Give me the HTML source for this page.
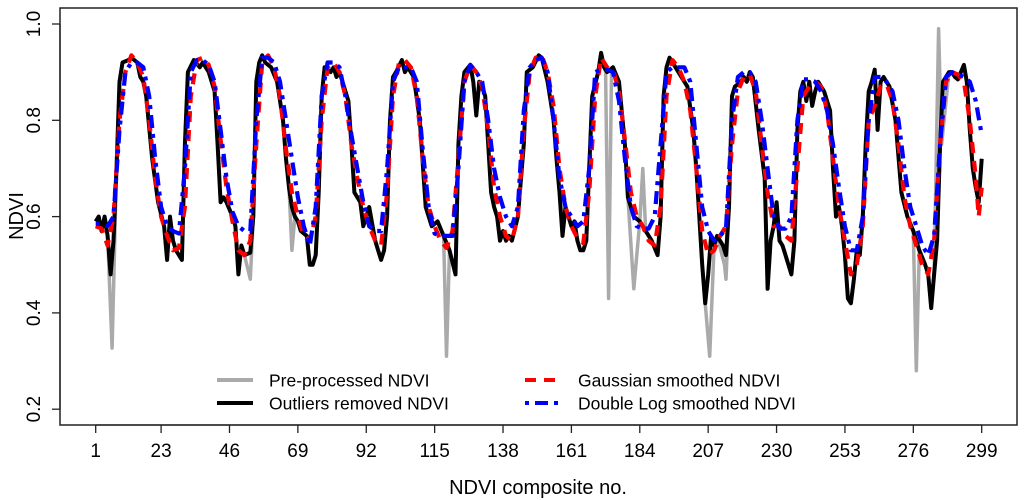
<!DOCTYPE html>
<html><head><meta charset="utf-8"><style>
html,body{margin:0;padding:0;background:#fff;}
svg{display:block;font-family:"Liberation Sans",Arial,sans-serif;}
</style></head><body>
<svg id="chart" width="1024" height="500" viewBox="0 0 1024 500">
<rect x="60" y="8" width="957" height="417" fill="none" stroke="#222" stroke-width="1.5"/>
<g id="xaxis"></g>
<g id="yaxis"></g>
<g id="series"></g>
<text x="538" y="494" font-size="20" text-anchor="middle" fill="#000">NDVI composite no.</text>
<text transform="translate(23,216) rotate(-90)" font-size="20" text-anchor="middle" fill="#000">NDVI</text>
<g>
<line x1="217" y1="380" x2="253" y2="380" stroke="#aaa" stroke-width="4"/>
<text x="269" y="386.5" font-size="17.5">Pre-processed NDVI</text>
<line x1="217" y1="403" x2="253" y2="403" stroke="#000" stroke-width="4"/>
<text x="269" y="409.5" font-size="17.5">Outliers removed NDVI</text>
<line x1="525" y1="380" x2="562" y2="380" stroke="#f00" stroke-width="4" stroke-dasharray="11,8"/>
<text x="578" y="386.5" font-size="17.5">Gaussian smoothed NDVI</text>
<line x1="525" y1="403" x2="562" y2="403" stroke="#00f" stroke-width="4" stroke-dasharray="4,6,13,6"/>
<text x="578" y="409.5" font-size="17.5">Double Log smoothed NDVI</text>
</g>
</svg>
<script>
const xTicks=[1,23,46,69,92,115,138,161,184,207,230,253,276,299];
const yTicks=[0.2,0.4,0.6,0.8,1.0];
const yTickLabels=["0.2","0.4","0.6","0.8","1.0"];
const blackX=[1,2,3,4,5,6,7,8,9,10,12,13,15,16,17,18,20,22,24,25,26,27,28,29,30,31,32,34,36,37,39,41,42,43,44,45,47,48,49,50,51,53,54,55,56,57,58,60,62,64,65,66,67,68,69,70,72,73,74,75,76,77,78,80,81,82,83,84,86,87,88,90,91,93,95,96,97,98,99,100,101,102,104,105,106,108,110,112,114,116,118,120,122,123,124,125,127,128,129,130,131,132,133,134,135,136,137,138,139,140,141,143,145,146,148,150,151,153,154,155,156,157,158,159,160,161,162,163,164,165,166,167,168,170,171,172,173,175,177,179,180,182,184,186,188,190,191,192,193,194,196,197,198,200,202,203,204,205,206,207,208,209,210,212,213,214,215,216,218,219,220,221,222,224,226,227,228,229,230,231,232,233,235,236,237,238,239,240,241,242,243,244,246,248,249,250,251,252,253,254,255,256,257,258,259,260,261,262,263,264,265,266,268,270,272,274,276,278,280,281,282,283,284,285,286,288,289,290,291,292,293,294,295,296,297,298,299];
const blackV=[.59,.60,.57,.60,.56,.48,.55,.70,.88,.92,.925,.93,.92,.89,.88,.85,.72,.63,.58,.51,.60,.55,.53,.52,.51,.75,.90,.925,.91,.92,.90,.86,.75,.63,.64,.63,.60,.58,.48,.54,.52,.525,.60,.88,.92,.935,.92,.91,.88,.80,.72,.66,.62,.60,.59,.57,.56,.50,.50,.52,.65,.85,.91,.90,.91,.89,.90,.88,.84,.75,.65,.63,.58,.62,.55,.53,.51,.53,.60,.80,.89,.90,.925,.90,.91,.89,.80,.62,.58,.59,.56,.53,.48,.75,.85,.90,.915,.88,.81,.88,.87,.85,.75,.65,.62,.60,.55,.57,.55,.56,.55,.60,.75,.90,.91,.935,.93,.88,.84,.80,.72,.65,.56,.62,.60,.58,.59,.55,.53,.53,.55,.70,.85,.90,.94,.91,.90,.91,.88,.75,.64,.60,.59,.57,.55,.52,.60,.85,.91,.93,.91,.90,.89,.87,.78,.70,.60,.50,.42,.48,.56,.54,.56,.54,.52,.62,.85,.87,.88,.89,.88,.90,.89,.78,.68,.45,.55,.58,.63,.55,.54,.52,.48,.55,.78,.86,.88,.84,.88,.83,.86,.88,.86,.82,.70,.60,.62,.58,.52,.43,.42,.47,.53,.52,.60,.75,.86,.88,.905,.78,.88,.89,.87,.80,.65,.60,.57,.53,.50,.48,.41,.48,.55,.75,.88,.90,.90,.89,.885,.90,.915,.88,.78,.70,.66,.63,.72];
const spikeX=[6.5,53,67,119,120,172.5,173.5,174.5,182,185,186,207.5,212.5,213,277,278,284.5,285.5];
const spikeV=[.327,.47,.53,.31,.53,.90,.43,.90,.45,.70,.57,.31,.50,.47,.28,.53,.99,.75];
const redX=[1,3,5,7,9,11,13,15,17,19,21,23,25,27,29,31,33,35,37,39,41,43,45,47,49,51,53,55,57,59,61,63,65,67,69,71,73,75,77,79,81,83,85,87,89,91,93,95,97,99,101,103,105,107,109,111,113,115,117,119,121,123,125,127,129,131,133,135,137,139,141,143,145,147,149,151,153,155,157,159,161,163,165,167,169,171,173,175,177,179,181,183,185,187,189,191,193,195,197,199,201,203,205,207,209,211,213,215,217,219,221,223,225,227,229,231,233,235,237,239,241,243,245,247,249,251,253,255,257,259,261,263,265,267,269,271,273,275,277,279,281,283,285,287,289,291,293,295,297,298,299];
const redV=[.58,.575,.54,.60,.80,.90,.935,.92,.89,.80,.68,.60,.56,.53,.535,.62,.85,.925,.93,.915,.87,.76,.66,.59,.53,.52,.55,.75,.92,.935,.91,.85,.74,.65,.60,.56,.55,.60,.80,.91,.92,.90,.85,.75,.68,.62,.58,.55,.54,.65,.85,.92,.925,.91,.85,.72,.62,.58,.55,.535,.57,.72,.88,.915,.90,.87,.78,.66,.60,.56,.55,.60,.78,.90,.93,.935,.90,.83,.70,.62,.58,.555,.545,.65,.85,.93,.91,.905,.86,.76,.65,.60,.58,.55,.54,.62,.85,.925,.91,.88,.82,.70,.57,.52,.53,.56,.58,.75,.86,.89,.895,.86,.75,.65,.58,.58,.56,.55,.70,.85,.87,.88,.87,.82,.72,.62,.55,.48,.50,.58,.80,.83,.87,.875,.84,.75,.64,.58,.54,.50,.48,.55,.75,.88,.90,.895,.88,.80,.68,.60,.66];
const blueX=[1,3,5,7,9,11,13,15,17,19,21,23,25,27,29,31,33,35,37,39,41,43,45,47,49,51,53,55,57,59,61,63,65,67,69,71,73,75,77,79,81,83,85,87,89,91,93,95,97,99,101,103,105,107,109,111,113,115,117,119,121,123,125,127,129,131,133,135,137,139,141,143,145,147,149,151,153,155,157,159,161,163,165,167,169,171,173,175,177,179,181,183,185,187,189,191,193,195,197,199,201,203,205,207,209,211,213,215,217,219,221,223,225,227,229,231,233,235,237,239,241,243,245,247,249,251,253,255,257,259,261,263,265,267,269,271,273,275,277,279,281,283,285,287,289,291,293,295,297,299];
const blueV=[.585,.585,.58,.60,.78,.90,.92,.92,.91,.85,.72,.62,.58,.57,.565,.70,.90,.925,.925,.915,.88,.78,.68,.61,.58,.57,.57,.80,.93,.93,.92,.88,.80,.72,.64,.58,.54,.62,.85,.92,.92,.91,.85,.77,.70,.63,.58,.57,.57,.70,.88,.91,.91,.91,.88,.74,.62,.565,.56,.56,.56,.70,.88,.915,.90,.88,.80,.70,.64,.60,.58,.62,.82,.91,.925,.93,.90,.80,.68,.62,.60,.58,.59,.70,.90,.905,.905,.90,.84,.72,.62,.58,.575,.575,.60,.75,.90,.91,.91,.91,.88,.75,.62,.57,.55,.56,.575,.80,.89,.90,.90,.88,.80,.70,.60,.575,.575,.60,.80,.885,.885,.88,.86,.82,.75,.66,.58,.53,.53,.60,.80,.89,.89,.88,.86,.80,.70,.62,.58,.54,.52,.56,.75,.89,.90,.895,.89,.88,.84,.77];

const X0=95.7,X1=981.7,C0=1,C1=299;
function xs(c){return X0+(c-C0)*(X1-X0)/(C1-C0);}
function ys(v){return 24+(1-v)*481.5;}
const NS="http://www.w3.org/2000/svg";
function mk(tag,attrs,parent){const e=document.createElementNS(NS,tag);for(const k in attrs)e.setAttribute(k,attrs[k]);parent.appendChild(e);return e;}
const xa=document.getElementById('xaxis'),ya=document.getElementById('yaxis'),sg=document.getElementById('series');
mk('line',{x1:xs(xTicks[0]),x2:xs(xTicks[xTicks.length-1]),y1:425,y2:425,stroke:'#222','stroke-width':1.3},xa);
xTicks.forEach(t=>{
  const l=mk('line',{x1:xs(t),x2:xs(t),y1:425,y2:433,stroke:'#222','stroke-width':1.3},xa);
  
  
  const tx=mk('text',{x:xs(t),y:457,'font-size':19,'text-anchor':'middle'},xa);
  tx.textContent=String(t);
  
  
});
mk('line',{x1:60,x2:60,y1:ys(yTicks[0]),y2:ys(yTicks[yTicks.length-1]),stroke:'#222','stroke-width':1.3},ya);
yTicks.forEach((t,i)=>{
  const l=mk('line',{x1:52,x2:60,y1:ys(t),y2:ys(t),stroke:'#222','stroke-width':1.3},ya);
  
  
  const tx=mk('text',{transform:'translate(40,'+ys(t)+') rotate(-90)','font-size':19,'text-anchor':'middle'},ya);
  tx.textContent=yTickLabels[i];
  
  
});
function pts(xa_,va_){return xa_.map((c,i)=>xs(c).toFixed(1)+','+ys(va_[i]).toFixed(1)).join(' ');}
const grayPairs=blackX.map((c,i)=>[c,blackV[i]]).filter(p=>!spikeX.some(s=>Math.abs(s-p[0])<0.6)).concat(spikeX.map((c,i)=>[c,spikeV[i]])).sort((a,b)=>a[0]-b[0]);
const g=mk('polyline',{points:pts(grayPairs.map(p=>p[0]),grayPairs.map(p=>p[1])),fill:'none',stroke:'#aaa','stroke-width':3.5,'stroke-linejoin':'round'},sg);


const b=mk('polyline',{points:pts(blackX,blackV),fill:'none',stroke:'#000','stroke-width':4,'stroke-linejoin':'round'},sg);


const r=mk('polyline',{points:pts(redX,redV),fill:'none',stroke:'#f00','stroke-width':4.2,'stroke-dasharray':'11,8','stroke-linejoin':'round'},sg);


const bl=mk('polyline',{points:pts(blueX,blueV),fill:'none',stroke:'#00f','stroke-width':4.2,'stroke-dasharray':'4,6,13,6','stroke-linejoin':'round'},sg);


</script>
</body></html>
